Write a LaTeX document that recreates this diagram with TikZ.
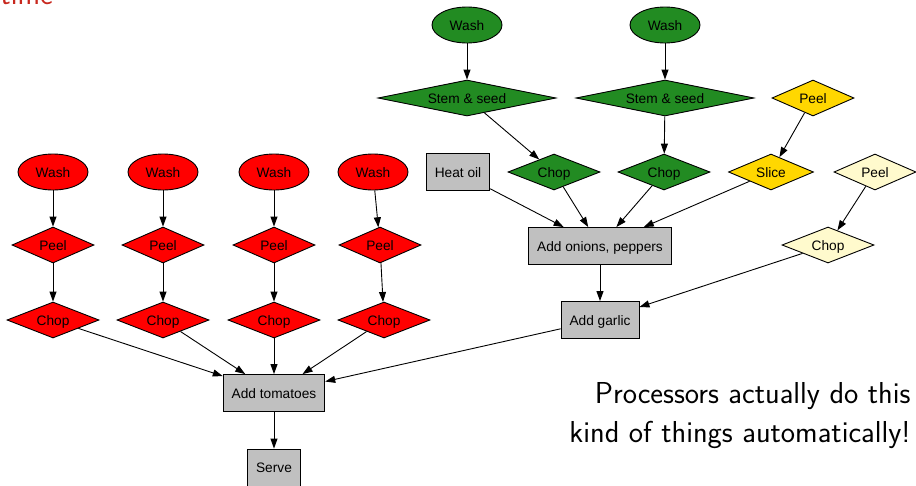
\documentclass[tikz,border=0pt]{standalone}
\usepackage{fontspec}
\newfontfamily\grafofont{Liberation Sans}
\usetikzlibrary{shapes.geometric,arrows.meta}
\definecolor{rojo}{RGB}{255,0,0}
\definecolor{verde}{RGB}{34,139,34}
\definecolor{oro}{RGB}{255,215,0}
\definecolor{limon}{RGB}{255,250,205}
\definecolor{gris}{RGB}{192,192,192}
\definecolor{alerta}{RGB}{200,40,30}
\begin{document}
\begin{tikzpicture}[x=1pt, y=-1pt, line width=0.9pt,
  paso/.style={draw, font=\grafofont\fontsize{13.7}{16}\selectfont, text height=10pt, text depth=0pt, inner sep=0pt},
  lavar/.style={paso, ellipse, minimum width=70pt, minimum height=36pt},
  rombo/.style={paso, diamond, shape aspect=3.6, minimum height=36pt},
  caja/.style={paso, rectangle, fill=gris, inner xsep=8.5pt, minimum height=37pt},
  flecha/.style={-{Triangle[length=10pt,width=7pt]}, line width=0.9pt},
  texto/.style={font=\sffamily\fontsize{30.3}{36}\selectfont, inner sep=0pt}]
  \useasboundingbox (0,0) rectangle (916,485);
  % el titulo cortado
  \node[texto, text=alerta, anchor=base west] (tiempo) at (0,4) {time};
  % los pimientos
  \node[lavar, fill=verde] (vlavar1) at (467,25) {Wash};
  \node[lavar, fill=verde] (vlavar2) at (665,25) {Wash};
  \node[rombo, fill=verde, minimum width=178pt] (vtallo1) at (467,98) {Stem \& seed};
  \node[rombo, fill=verde, minimum width=178pt] (vtallo2) at (665,98) {Stem \& seed};
  \node[rombo, fill=verde, minimum width=92pt] (vpicar1) at (554,172) {Chop};
  \node[rombo, fill=verde, minimum width=92pt] (vpicar2) at (664,172) {Chop};
  % la cebolla y el ajo
  \node[rombo, fill=oro, minimum width=82pt] (opelar) at (813,98) {Peel};
  \node[rombo, fill=oro, minimum width=85pt] (ocortar) at (771,172) {Slice};
  \node[rombo, fill=limon, minimum width=82pt] (apelar) at (875,172) {Peel};
  \node[rombo, fill=limon, minimum width=92pt] (apicar) at (828,245) {Chop};
  % la sarten
  \node[caja] (aceite) at (458,172) {Heat oil};
  \node[caja] (cebollas) at (600,246) {Add onions, peppers};
  \node[caja] (ajo) at (600,320) {Add garlic};
  \node[caja] (tomates) at (274,393) {Add tomatoes};
  \node[caja] (servir) at (274,467.5) {Serve};
  % los tomates
  \foreach \n/\xa/\xb/\xc in {1/53/53/53, 2/163/163/163, 3/274/274/274, 4/373/380/384} {
    \node[lavar, fill=rojo] (rlavar\n) at (\xa,172) {Wash};
    \node[rombo, fill=rojo, minimum width=82pt] (rpelar\n) at (\xb,245) {Peel};
    \node[rombo, fill=rojo, minimum width=92pt] (rpicar\n) at (\xc,320) {Chop};
    \draw[flecha] (rlavar\n) -- (rpelar\n);
    \draw[flecha] (rpelar\n) -- (rpicar\n);
    \draw[flecha] (rpicar\n) -- (tomates);
  }
  % las flechas
  \draw[flecha] (vlavar1) -- (vtallo1);
  \draw[flecha] (vlavar2) -- (vtallo2);
  \draw[flecha] (vtallo1) -- (vpicar1);
  \draw[flecha] (vtallo2) -- (vpicar2);
  \draw[flecha] (opelar) -- (ocortar);
  \draw[flecha] (apelar) -- (apicar);
  \draw[flecha] (aceite) -- (cebollas);
  \draw[flecha] (vpicar1) -- (cebollas);
  \draw[flecha] (vpicar2) -- (cebollas);
  \draw[flecha] (ocortar) -- (cebollas);
  \draw[flecha] (cebollas) -- (ajo);
  \draw[flecha] (apicar) -- (ajo);
  \draw[flecha] (ajo) -- (tomates);
  \draw[flecha] (tomates) -- (servir);
  % el comentario
  \node[texto, anchor=base east] (nota1) at (911,403) {Processors actually do this};
  \node[texto, anchor=base east] (nota2) at (911,442) {kind of things automatically!};
\end{tikzpicture}
\end{document}
